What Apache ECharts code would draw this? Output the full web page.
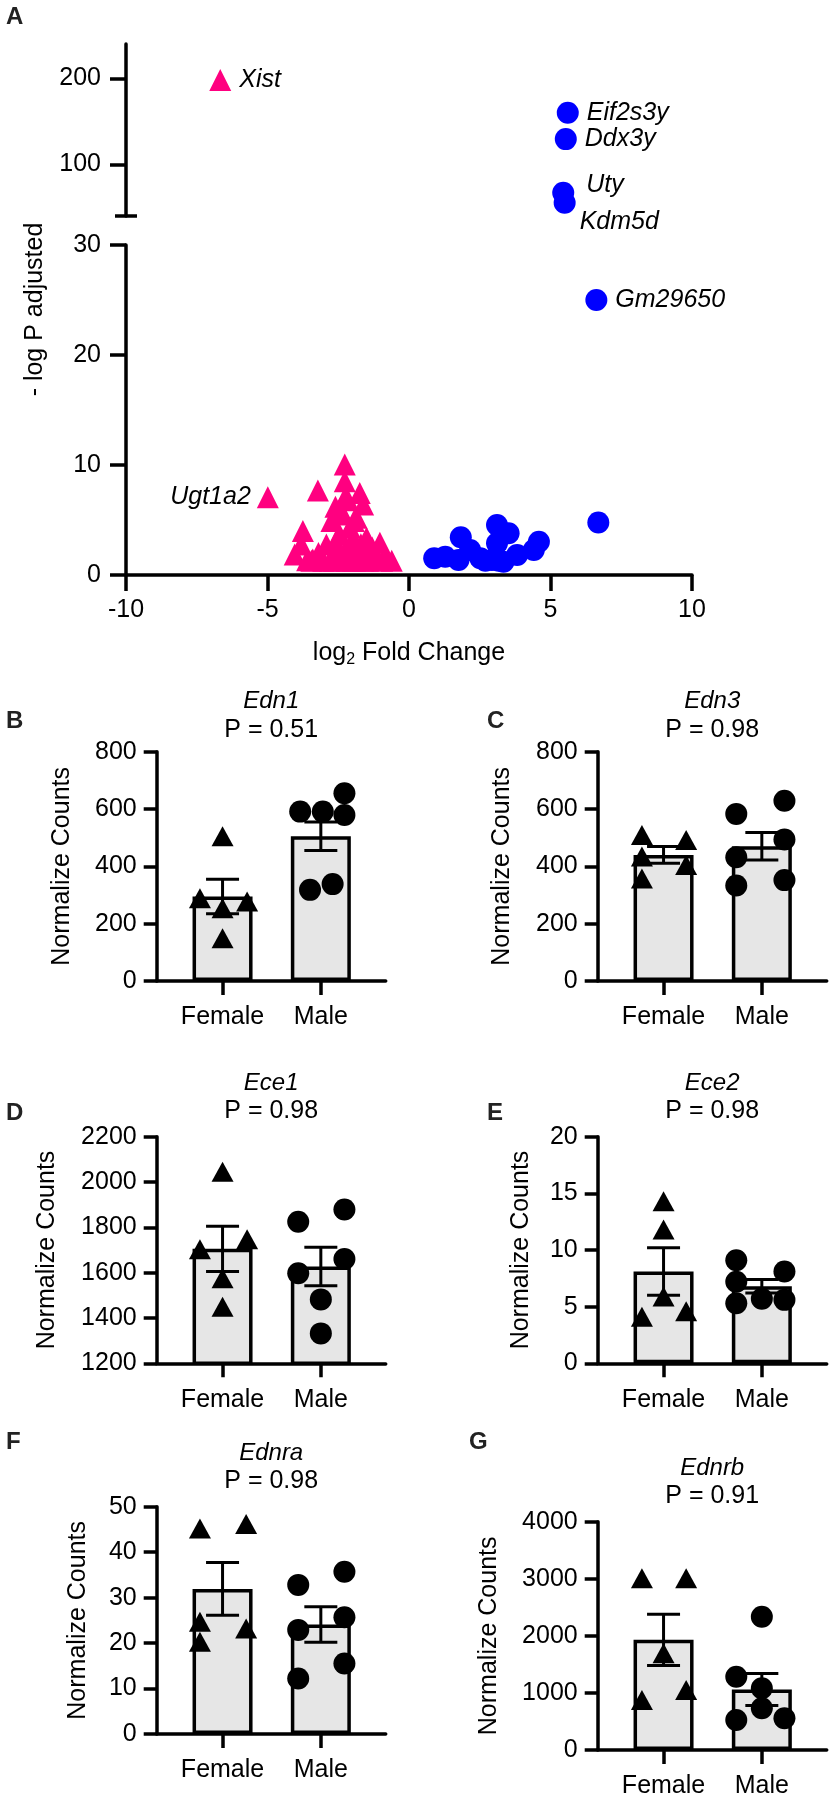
<!DOCTYPE html>
<html>
<head>
<meta charset="utf-8">
<script src="https://cdn.jsdelivr.net/npm/echarts@6/dist/echarts.min.js"></script>
<style>
  html, body { margin: 0; padding: 0; background: #fff; }
  #chart { width: 831px; height: 1800px; }
</style>
</head>
<body>
<div id="chart"></div>
<script>
// ---- panel A: volcano ----
var pinkFC = [-6.67, -4.99, -3.22, -2.27, -2.27, -1.74, -2.27, -2.33, -2.74, -1.85, -3.75, -3.81, -4.04, -3.45, -2.92, -2.80,
  -2.45, -2.09, -2.45, -1.50, -1.38, -1.03, -0.79, -0.61, -1.91, -3.40, -1.62, -2.09, -3.03, -1.62, -1.15,
  -2.60, -1.98, -2.60, -1.78, -2.20, -2.15, -2.45, -1.95, -2.60, -1.70, -1.30, -0.95, -2.30, -3.20, -2.00,
  -1.45, -2.65, -3.60];
var pinkLogP = [198, 7.07, 7.68, 10.04, 8.52, 7.46, 7.01, 5.5, 4.9, 5.2, 4.0, 2.78, 1.87, 1.3, 2.78, 1.3,
  3.69, 2.48, 1.57, 3.38, 1.87, 2.93, 1.57, 1.3, 1.3, 1.4, 6.41, 4.29, 1.3, 1.3, 1.35,
  6.2, 3.3, 2.0, 2.1, 1.3, 6.8, 6.0, 4.9, 3.0, 2.8, 2.5, 1.3, 2.0, 2.0, 1.3,
  1.3, 1.3, 1.35];
var pinkGenes = ["Xist", "Ugt1a2"];

var blueFC = [5.61, 5.54, 5.45, 5.50, 6.62, 6.69, 0.89, 1.28, 1.75, 1.83, 2.16, 2.70, 3.11, 3.52, 3.11, 3.17,
  3.34, 3.82, 4.41, 4.59, 2.93, 2.52];
var blueLogP = [160, 129.4, 67, 55.3, 25.0, 4.78, 1.52, 1.66, 1.36, 3.43, 2.27, 1.3, 4.55, 3.79, 2.88, 1.3,
  1.2, 1.82, 2.27, 3.03, 1.36, 1.52];
var blueGenes = ["Eif2s3y", "Ddx3y", "Uty", "Kdm5d", "Gm29650"];

var fcTicks = [-10, 10, 5];
var upperTicks = [100, 200];

// ---- panels B-G: bar + points ----
var groups = ["Female", "Male"];

var edn1Female = [505, 289, 277, 254, 149];
var edn1Male = [655, 591, 591, 579, 318, 338];
var edn1Mean = [295, 505];
var edn1Sem = [60, 50];

var edn3Female = [509, 492, 434, 405, 358];
var edn3Male = [629, 583, 494, 432, 352, 333];
var edn3Mean = [440, 470];
var edn3Sem = [29, 48];

var ece1Female = [2045, 1747, 1703, 1575, 1450];
var ece1Male = [1879, 1825, 1660, 1597, 1482, 1332];
var ece1Mean = [1705, 1627];
var ece1Sem = [100, 85];

var ece2Female = [14.3, 11.8, 5.9, 4.1, 4.6];
var ece2Male = [9.1, 8.1, 7.2, 5.3, 5.7, 5.6];
var ece2Mean = [8.1, 6.8];
var ece2Sem = [2.1, 0.6];

var ednraFemale = [45.2, 46.2, 24.7, 23.2, 20.3];
var ednraMale = [35.7, 32.8, 25.7, 22.9, 15.5, 12.2];
var ednraMean = [31.9, 24.1];
var ednraSem = [5.8, 3.9];

var ednrbFemale = [3008, 3008, 1694, 876, 1051];
var ednrbMale = [2335, 1284, 1081, 730, 526, 555];
var ednrbMean = [1930, 1060];
var ednrbSem = [450, 280];

// horizontal scatter of the dots around each bar (in category units)
var edn1FemaleJit = [0, -0.23, 0.25, 0, 0];
var edn1MaleJit = [0.24, -0.21, 0.02, 0.24, -0.11, 0.12];
var edn3FemaleJit = [-0.22, 0.23, -0.22, 0.23, -0.22];
var edn3MaleJit = [0.23, -0.26, 0.23, -0.26, 0.23, -0.26];
var ece1FemaleJit = [0, 0.25, -0.23, 0, 0];
var ece1MaleJit = [0.24, -0.23, 0.24, -0.23, 0, 0];
var ece2FemaleJit = [0, 0, 0, -0.22, 0.23];
var ece2MaleJit = [-0.26, 0.23, -0.26, -0.26, 0, 0.23];
var ednraFemaleJit = [-0.23, 0.24, -0.23, 0.24, -0.23];
var ednraMaleJit = [0.24, -0.23, 0.24, -0.23, 0.24, -0.23];
var ednrbFemaleJit = [-0.22, 0.23, 0, -0.22, 0.23];
var ednrbMaleJit = [0, -0.26, 0, 0, -0.26, 0.23];

var FONT = '"Liberation Sans", Arial, Helvetica, sans-serif';
var LW = 3.5;
var PINK = "#ff0080";
var BLUE = "#0000ff";

var chart = echarts.init(document.getElementById("chart"));

var panels = [
  { letter: "B", gene: "Edn1", p: "P = 0.51", f: edn1Female, m: edn1Male, fj: edn1FemaleJit, mj: edn1MaleJit, mean: edn1Mean, sem: edn1Sem,
    min: 0, max: 800, step: 200, box: { left: 156.7, top: 751.7, height: 229.3 }, titleTop: 689.5, letterPos: [6, 709], nameGap: 82 },
  { letter: "C", gene: "Edn3", p: "P = 0.98", f: edn3Female, m: edn3Male, fj: edn3FemaleJit, mj: edn3MaleJit, mean: edn3Mean, sem: edn3Sem,
    min: 0, max: 800, step: 200, box: { left: 597.7, top: 751.7, height: 229.3 }, titleTop: 689.5, letterPos: [487, 709], nameGap: 83 },
  { letter: "D", gene: "Ece1", p: "P = 0.98", f: ece1Female, m: ece1Male, fj: ece1FemaleJit, mj: ece1MaleJit, mean: ece1Mean, sem: ece1Sem,
    min: 1200, max: 2200, step: 200, box: { left: 156.7, top: 1136.7, height: 226.6 }, titleTop: 1071, letterPos: [6, 1101], nameGap: 97 },
  { letter: "E", gene: "Ece2", p: "P = 0.98", f: ece2Female, m: ece2Male, fj: ece2FemaleJit, mj: ece2MaleJit, mean: ece2Mean, sem: ece2Sem,
    min: 0, max: 20, step: 5, box: { left: 597.7, top: 1136.7, height: 226.6 }, titleTop: 1071, letterPos: [487, 1101], nameGap: 64 },
  { letter: "F", gene: "Ednra", p: "P = 0.98", f: ednraFemale, m: ednraMale, fj: ednraFemaleJit, mj: ednraMaleJit, mean: ednraMean, sem: ednraSem,
    min: 0, max: 50, step: 10, box: { left: 156.7, top: 1506.7, height: 227.3 }, titleTop: 1441, letterPos: [6, 1430], nameGap: 66 },
  { letter: "G", gene: "Ednrb", p: "P = 0.91", f: ednrbFemale, m: ednrbMale, fj: ednrbFemaleJit, mj: ednrbMaleJit, mean: ednrbMean, sem: ednrbSem,
    min: 0, max: 4000, step: 1000, box: { left: 597.7, top: 1521.7, height: 228.3 }, titleTop: 1456, letterPos: [469, 1430], nameGap: 96 },
];

var labelPlace = {
  Xist: { position: "right", distance: 8 },
  Ugt1a2: { position: "left", distance: 6 },
  Eif2s3y: { position: "right", distance: 8 },
  Ddx3y: { position: "right", distance: 8 },
  Uty: { position: "right", distance: 8, offset: [4, -8] },
  Kdm5d: { position: "right", distance: 8, offset: [-4, 19] },
  Gm29650: { position: "right", distance: 8 },
};

function axisLineStyle() {
  return { show: true, onZero: false, lineStyle: { color: "#000", width: LW } };
}
function plain(v) {
  return String(v);
}

function volcanoPoints(fc, logp, names, upper) {
  var out = [];
  for (var i = 0; i < fc.length; i++) {
    if ((logp[i] > 30) !== upper) continue;
    var item = { value: [fc[i], logp[i]] };
    var name = names[i];
    if (name) {
      var pl = labelPlace[name];
      item.label = {
        show: true,
        formatter: name,
        position: pl.position,
        distance: pl.distance,
        offset: pl.offset || [0, 0],
        fontStyle: "italic",
        fontSize: 25,
        color: "#000",
        fontFamily: FONT,
      };
    }
    out.push(item);
  }
  return out;
}

var grids = [
  { left: 126, width: 566, top: 44, height: 172 },
  { left: 126, width: 566, top: 245, height: 330 },
];
var xAxes = [
  { gridIndex: 0, type: "value", min: fcTicks[0], max: fcTicks[1], show: false },
  {
    gridIndex: 1, type: "value", min: fcTicks[0], max: fcTicks[1], interval: fcTicks[2],
    axisLine: axisLineStyle(), axisTick: { show: true, length: 16, lineStyle: { width: LW, color: "#000" } },
    axisLabel: { fontSize: 25, color: "#000", margin: 23, formatter: plain }, splitLine: { show: false },
    name: "{a|log}{b|2}{a| Fold Change}", nameLocation: "middle", nameGap: 63,
    nameTextStyle: {
      rich: {
        a: { fontSize: 25, color: "#000", fontFamily: FONT, lineHeight: 30 },
        b: { fontSize: 16, color: "#000", fontFamily: FONT, lineHeight: 15, verticalAlign: "bottom" },
      },
    },
  },
];
var yAxes = [
  {
    gridIndex: 0, type: "value", min: 40, max: 240,
    axisLine: axisLineStyle(),
    axisTick: { show: true, length: 16, customValues: upperTicks, lineStyle: { width: LW, color: "#000" } },
    axisLabel: { fontSize: 25, color: "#000", margin: 25, customValues: upperTicks, formatter: plain }, splitLine: { show: false },
  },
  {
    gridIndex: 1, type: "value", min: 0, max: 30, interval: 10,
    axisLine: axisLineStyle(),
    axisTick: { show: true, length: 16, lineStyle: { width: LW, color: "#000" } },
    axisLabel: { fontSize: 25, color: "#000", margin: 25, formatter: plain }, splitLine: { show: false },
  },
];
var series = [
  { type: "scatter", xAxisIndex: 0, yAxisIndex: 0, symbol: "triangle", symbolSize: [22, 22], itemStyle: { color: PINK, opacity: 1 },
    data: volcanoPoints(pinkFC, pinkLogP, pinkGenes, true), z: 3 },
  { type: "scatter", xAxisIndex: 0, yAxisIndex: 0, symbol: "circle", symbolSize: 22, itemStyle: { color: BLUE, opacity: 1 },
    data: volcanoPoints(blueFC, blueLogP, blueGenes, true), z: 3 },
  { type: "scatter", xAxisIndex: 1, yAxisIndex: 1, symbol: "triangle", symbolSize: [22, 22], itemStyle: { color: PINK, opacity: 1 },
    data: volcanoPoints(pinkFC, pinkLogP, pinkGenes, false), z: 3 },
  { type: "scatter", xAxisIndex: 1, yAxisIndex: 1, symbol: "circle", symbolSize: 22, itemStyle: { color: BLUE, opacity: 1 },
    data: volcanoPoints(blueFC, blueLogP, blueGenes, false), z: 3 },
];
var titles = [
  { text: "A", left: 6, top: 5, padding: 0, textStyle: { fontSize: 24, fontWeight: "bold", color: "#222", fontFamily: FONT } },
];

panels.forEach(function (pn, k) {
  var gi = k + 2;
  grids.push({ left: pn.box.left, width: 229, top: pn.box.top, height: pn.box.height });
  xAxes.push({
    gridIndex: gi, type: "value", min: 0.33, max: 2.66,
    axisLine: axisLineStyle(),
    axisTick: { show: true, length: 14, customValues: [1, 2], lineStyle: { width: LW, color: "#000" } },
    axisLabel: { fontSize: 25, color: "#000", margin: 24, customValues: [1, 2], formatter: function (v) { return groups[Math.round(v) - 1]; } },
    splitLine: { show: false },
  });
  yAxes.push({
    gridIndex: gi, type: "value", min: pn.min, max: pn.max, interval: pn.step,
    axisLine: axisLineStyle(),
    axisTick: { show: true, length: 13, lineStyle: { width: LW, color: "#000" } },
    axisLabel: { fontSize: 25, color: "#000", margin: 20, formatter: plain },
    splitLine: { show: false },
    name: "Normalize Counts", nameLocation: "middle", nameGap: pn.nameGap,
    nameTextStyle: { fontSize: 25, color: "#000", fontFamily: FONT },
  });
  series.push({
    type: "bar", xAxisIndex: gi, yAxisIndex: gi, barWidth: 60,
    itemStyle: { color: "#e6e6e6", borderColor: "#000", borderWidth: LW },
    data: pn.mean.map(function (v, i) { return [i + 1, v]; }), z: 1,
  });
  series.push({
    type: "scatter", xAxisIndex: gi, yAxisIndex: gi, symbol: "triangle", symbolSize: [22, 20],
    itemStyle: { color: "#000", opacity: 1 },
    data: pn.f.map(function (v, i) { return [1 + pn.fj[i], v]; }), z: 3,
  });
  series.push({
    type: "scatter", xAxisIndex: gi, yAxisIndex: gi, symbol: "circle", symbolSize: 22,
    itemStyle: { color: "#000", opacity: 1 },
    data: pn.m.map(function (v, i) { return [2 + pn.mj[i], v]; }), z: 3,
  });
  series.push({
    type: "custom", xAxisIndex: gi, yAxisIndex: gi, z: 4,
    encode: { x: 0, y: 1 },
    data: pn.mean.map(function (v, i) { return [i + 1, v, pn.sem[i]]; }),
    renderItem: function (params, api) {
      var x = api.value(0), m = api.value(1), s = api.value(2);
      var top = api.coord([x, m + s]);
      var bot = api.coord([x, m - s]);
      var hw = 16.5;
      var st = { stroke: "#000", lineWidth: 3 };
      return {
        type: "group",
        children: [
          { type: "line", shape: { x1: top[0], y1: top[1], x2: bot[0], y2: bot[1] }, style: st },
          { type: "line", shape: { x1: top[0] - hw, y1: top[1], x2: top[0] + hw, y2: top[1] }, style: st },
          { type: "line", shape: { x1: bot[0] - hw, y1: bot[1], x2: bot[0] + hw, y2: bot[1] }, style: st },
        ],
      };
    },
  });
  titles.push({
    text: pn.gene, subtext: pn.p, left: pn.box.left + 114.5, top: pn.titleTop, textAlign: "center", padding: 0, itemGap: 4,
    textStyle: { fontSize: 24, fontStyle: "italic", fontWeight: "normal", color: "#000", fontFamily: FONT },
    subtextStyle: { fontSize: 25, color: "#000", fontFamily: FONT },
  });
  titles.push({
    text: pn.letter, left: pn.letterPos[0], top: pn.letterPos[1], padding: 0,
    textStyle: { fontSize: 24, fontWeight: "bold", color: "#222", fontFamily: FONT },
  });
});

chart.setOption({
  animation: false,
  backgroundColor: "#fff",
  textStyle: { fontFamily: FONT, color: "#000" },
  title: titles,
  grid: grids,
  xAxis: xAxes,
  yAxis: yAxes,
  series: series,
});

// break cap under the upper segment and the shared y title of panel A
var capPt = chart.convertToPixel({ xAxisIndex: 0, yAxisIndex: 0 }, [fcTicks[0], 40]);
var topPt = chart.convertToPixel({ xAxisIndex: 0, yAxisIndex: 0 }, [fcTicks[0], 240]);
var lowPt = chart.convertToPixel({ xAxisIndex: 1, yAxisIndex: 1 }, [fcTicks[0], 0]);
chart.setOption({
  graphic: [
    { type: "line", shape: { x1: capPt[0] - 11, y1: capPt[1], x2: capPt[0] + 11, y2: capPt[1] }, style: { stroke: "#000", lineWidth: LW } },
    {
      type: "text", x: 35, y: (topPt[1] + lowPt[1]) / 2, rotation: Math.PI / 2,
      style: { text: "- log P adjusted", fontSize: 25, fontFamily: FONT, fill: "#000", align: "center", verticalAlign: "middle" },
    },
  ],
});
</script>
</body>
</html>
